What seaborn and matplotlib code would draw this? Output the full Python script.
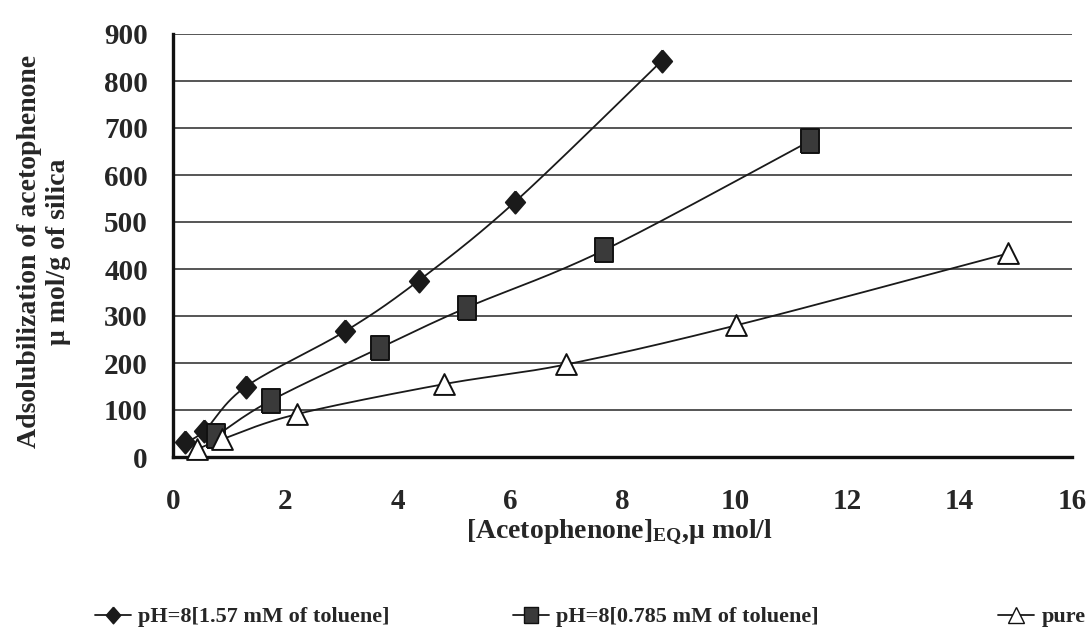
import numpy as np
import pandas as pd
import matplotlib
matplotlib.use("Agg")
import matplotlib.pyplot as plt
from matplotlib.lines import Line2D
import seaborn as sns

# ---- data ----
x_high = [0.21, 0.56, 1.30, 3.07, 4.37, 6.08, 8.70]
y_high = [31, 56, 150, 268, 375, 542, 843]
x_low = [0.77, 1.74, 3.68, 5.23, 7.67, 11.33]
y_low = [45, 120, 232, 318, 440, 672]
x_pure = [0.42, 0.88, 2.20, 4.82, 7.00, 10.02, 14.86]
y_pure = [16, 38, 91, 155, 197, 280, 433]
labels = ["pH=8[1.57 mM of toluene]", "pH=8[0.785 mM of toluene]", "pure"]
x_ticks = [0, 2, 4, 6, 8, 10, 12, 14, 16]
y_ticks = [0, 100, 200, 300, 400, 500, 600, 700, 800, 900]

sns.set_style("white")
plt.rcParams["font.family"] = ["Liberation Serif", "DejaVu Serif"]
plt.rcParams["mathtext.fontset"] = "custom"
plt.rcParams["mathtext.rm"] = "Liberation Serif:bold"
plt.rcParams["mathtext.bf"] = "Liberation Serif:bold"
plt.rcParams["mathtext.it"] = "Liberation Serif:bold"

W, H, DPI = 1090, 633, 100
fig = plt.figure(figsize=(W / DPI, H / DPI), dpi=DPI)
L, R, T, B = 173 / W, 1072 / W, 34 / H, 457 / H
ax = fig.add_axes([L, 1 - B, R - L, B - T])
ax.set_xlim(0, 16)
ax.set_ylim(0, 900)

# pixel scale for smoothing in display space
sx = (R - L) * W / 16.0
sy = (B - T) * H / 900.0


def smooth(xs, ys, n=30):
    px = np.array(xs) * sx
    py = np.array(ys) * sy
    P = np.column_stack([px, py])
    P = np.vstack([P[0], P, P[-1]])
    out = []
    for i in range(1, len(P) - 2):
        p0, p1, p2, p3 = P[i - 1], P[i], P[i + 1], P[i + 2]
        c1 = p1 + (p2 - p0) / 6.0
        c2 = p2 - (p3 - p1) / 6.0
        t = np.linspace(0, 1, n)[:, None]
        seg = ((1 - t) ** 3) * p1 + 3 * ((1 - t) ** 2) * t * c1 + 3 * (1 - t) * t ** 2 * c2 + t ** 3 * p2
        out.append(seg if i == 1 else seg[1:])
    S = np.vstack(out)
    return S[:, 0] / sx, S[:, 1] / sy


diamond = [(0, 1.15), (1, 0), (0, -1.15), (-1, 0), (0, 1.15)]
rect = [(-1, -1.25), (1, -1.25), (1, 1.25), (-1, 1.25), (-1, -1.25)]

series = [
    (x_high, y_high, diamond, "#1a1a1a", "#1a1a1a", 16),
    (x_low, y_low, rect, "#3a3a3a", "#111111", 17),
    (x_pure, y_pure, "^", "white", "#111111", 15),
]

for xs, ys, mk, fc, ec, ms in series:
    cx, cy = smooth(xs, ys)
    sns.lineplot(x=cx, y=cy, sort=False, ax=ax, color="#1a1a1a", lw=1.3, zorder=3)

for xs, ys, mk, fc, ec, ms in series:
    sns.scatterplot(x=xs, y=ys, ax=ax, marker=mk, s=ms ** 2,
                    color=fc, edgecolor=ec, linewidth=1.4, zorder=5, clip_on=False)

ax.set_xticks(x_ticks)
ax.set_yticks(y_ticks)
ax.grid(axis="y", color="#555555", lw=1.4)
ax.grid(axis="x", visible=False)
for s in ["top", "right"]:
    ax.spines[s].set_visible(False)
for s in ["left", "bottom"]:
    ax.spines[s].set_linewidth(2.4)
    ax.spines[s].set_color("#111111")
ax.tick_params(axis="both", direction="out", length=10, width=2.2, color="#111111",
               labelsize=21)
ax.tick_params(axis="y", pad=8)
ax.tick_params(axis="x", pad=12)
for lab in ax.get_xticklabels() + ax.get_yticklabels():
    lab.set_fontweight("bold")

ax.set_xlabel(r"[Acetophenone]$_{\mathrm{EQ}}$,$\mathrm{\mu}$ mol/l", fontsize=20,
              fontweight="bold")
ax.xaxis.set_label_coords(0.496, -0.143)
ax.set_ylabel("Adsolubilization of acetophenone\n" + "\u03bc mol/g of silica", fontsize=20,
              fontweight="bold", linespacing=1.25)
ax.yaxis.set_label_coords(-0.113, 0.485)

handles = [
    Line2D([], [], color="#1a1a1a", lw=1.3, marker=diamond, markersize=12,
           markerfacecolor="#1a1a1a", markeredgecolor="#1a1a1a"),
    Line2D([], [], color="#1a1a1a", lw=1.3, marker=rect, markersize=12,
           markerfacecolor="#3a3a3a", markeredgecolor="#111111"),
    Line2D([], [], color="#1a1a1a", lw=1.3, marker="^", markersize=11,
           markerfacecolor="white", markeredgecolor="#111111"),
]
starts = [95, 513, 998]
for h, lab, x0 in zip(handles, labels, starts):
    fig.legend([h], [lab], loc="center left", bbox_to_anchor=(x0 / W, 1 - 617 / H),
               frameon=False, prop={"weight": "bold", "size": 16},
               handlelength=1.6, handletextpad=0.35, borderaxespad=0, borderpad=0)

fig.savefig("out.png", dpi=DPI, facecolor="white")
